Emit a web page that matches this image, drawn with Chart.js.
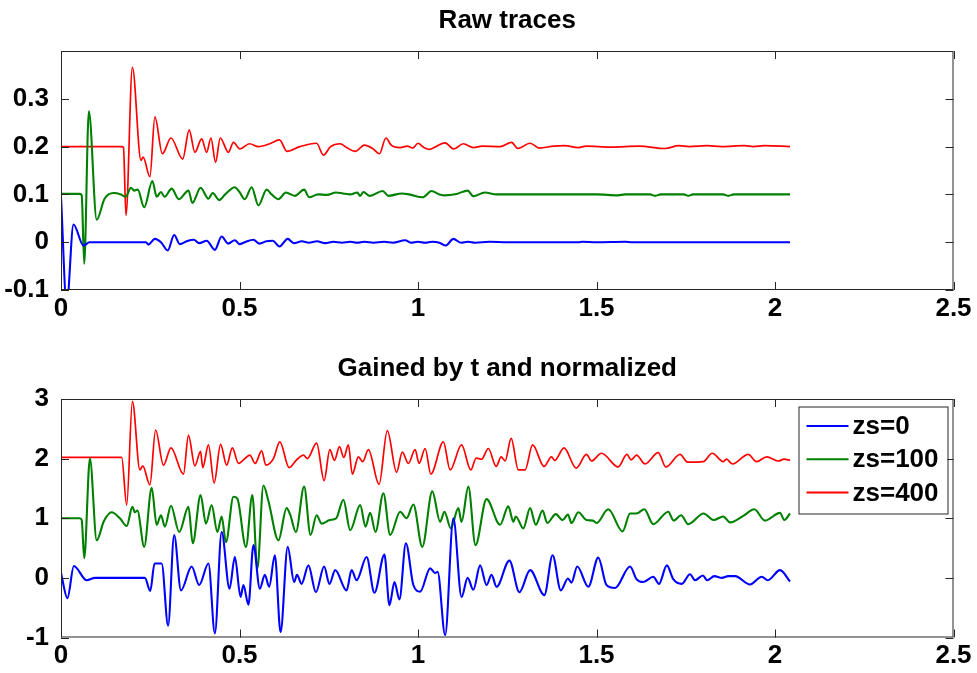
<!DOCTYPE html>
<html>
<head>
<meta charset="utf-8">
<script src="https://cdn.jsdelivr.net/npm/chart.js@4.4.1/dist/chart.umd.min.js"></script>
<style>
  body { margin: 0; background: #fff; }
  #wrap { position: relative; width: 977px; height: 673px; }
  canvas { position: absolute; left: 0; }
</style>
</head>
<body>
<div id="wrap">
  <canvas id="raw" width="977" height="336" style="top:0"></canvas>
  <canvas id="gained" width="977" height="337" style="top:336px"></canvas>
</div>
<script>
// etiquetas y marcas de los ejes
const xTicks = [0, 0.5, 1, 1.5, 2, 2.5];
const rawTicks = [-0.1, 0, 0.1, 0.2, 0.3];
const gainTicks = [-1, 0, 1, 2, 3];
const legendLabels = ['zs=0', 'zs=100', 'zs=400'];

const rawZs0 = [[0,0.094],[0.016,-0.13],[0.035,0.037],[0.063,-0.007],[0.08,0],[0.238,0],[0.245,-0.005],[0.263,0.007],[0.28,0.0],[0.299,-0.017],[0.317,0.015],[0.333,-0.004],[0.352,0.002],[0.372,0.005],[0.387,-0.002],[0.408,0.003],[0.431,-0.016],[0.45,0.012],[0.468,-0.003],[0.487,0.004],[0.5,-0.004],[0.515,0.0],[0.539,0.005],[0.556,-0.003],[0.575,0.002],[0.593,0.003],[0.612,-0.009],[0.635,0.007],[0.652,-0.002],[0.675,0.002],[0.694,-0.001],[0.717,0.002],[0.74,-0.002],[0.763,0.001],[0.787,-0.001],[0.81,0.001],[0.83,-0.001],[0.85,0.001],[0.875,-0.001],[0.905,0.001],[0.93,-0.001],[0.964,0.004],[0.98,-0.001],[1.0,0.001],[1.02,-0.001],[1.04,0.001],[1.06,-0.001],[1.078,-0.007],[1.099,0.007],[1.12,-0.001],[1.14,0.001],[1.16,-0.001],[1.2,0.001],[1.25,0],[1.45,0],[1.46,0.001],[1.5,0],[1.58,0.001],[1.6,0],[2.042,0]];
const rawZs100 = [[0,0.101],[0.053,0.101],[0.058,0.098],[0.065,-0.045],[0.078,0.274],[0.10,0.047],[0.122,0.091],[0.147,0.103],[0.168,0.1],[0.181,0.095],[0.196,0.114],[0.205,0.108],[0.215,0.11],[0.233,0.073],[0.256,0.128],[0.268,0.095],[0.28,0.105],[0.29,0.095],[0.31,0.112],[0.33,0.09],[0.357,0.108],[0.368,0.082],[0.391,0.114],[0.413,0.091],[0.425,0.103],[0.443,0.088],[0.46,0.1],[0.487,0.115],[0.5,0.105],[0.515,0.09],[0.534,0.115],[0.553,0.077],[0.576,0.11],[0.59,0.1],[0.609,0.09],[0.63,0.104],[0.655,0.097],[0.681,0.11],[0.695,0.094],[0.72,0.1],[0.745,0.099],[0.77,0.104],[0.79,0.102],[0.81,0.1],[0.83,0.104],[0.838,0.097],[0.847,0.105],[0.865,0.097],[0.901,0.107],[0.917,0.097],[0.955,0.102],[0.975,0.1],[1.013,0.094],[1.038,0.107],[1.06,0.1],[1.075,0.098],[1.108,0.101],[1.139,0.108],[1.155,0.096],[1.187,0.104],[1.22,0.1],[1.5,0.1],[1.56,0.098],[1.58,0.1],[1.65,0.1],[1.664,0.097],[1.68,0.1],[1.745,0.1],[1.757,0.097],[1.77,0.1],[1.855,0.1],[1.869,0.097],[1.885,0.1],[2.042,0.1]];
const rawZs400 = [[0,0.2],[0.17,0.2],[0.175,0.198],[0.182,0.056],[0.20,0.366],[0.224,0.171],[0.23,0.178],[0.249,0.137],[0.263,0.262],[0.284,0.185],[0.308,0.218],[0.341,0.174],[0.359,0.235],[0.375,0.188],[0.394,0.216],[0.408,0.188],[0.42,0.218],[0.433,0.167],[0.446,0.218],[0.469,0.188],[0.483,0.209],[0.501,0.195],[0.528,0.206],[0.553,0.2],[0.585,0.206],[0.612,0.214],[0.633,0.19],[0.669,0.2],[0.716,0.207],[0.735,0.182],[0.755,0.2],[0.782,0.206],[0.8,0.198],[0.824,0.19],[0.85,0.203],[0.873,0.196],[0.892,0.185],[0.91,0.218],[0.925,0.203],[0.95,0.198],[0.97,0.201],[0.985,0.197],[1.0,0.207],[1.015,0.199],[1.032,0.194],[1.05,0.2],[1.076,0.208],[1.1,0.195],[1.127,0.206],[1.155,0.198],[1.18,0.201],[1.23,0.2],[1.262,0.209],[1.28,0.196],[1.314,0.207],[1.34,0.197],[1.38,0.201],[1.41,0.202],[1.45,0.198],[1.47,0.201],[1.54,0.199],[1.62,0.201],[1.692,0.196],[1.73,0.202],[1.76,0.2],[1.81,0.202],[1.85,0.2],[1.914,0.202],[1.94,0.2],[1.97,0.202],[2.042,0.2]];

// trazas con ganancia t y normalizadas [t, amplitud] (grafico de abajo)
const gainZs0 = [[0,0.08],[0.018,-0.34],[0.036,0.20],[0.072,-0.04],[0.095,0.0],[0.235,0.0],[0.25,-0.22],[0.262,0.24],[0.282,0.24],[0.30,-0.80],[0.317,0.72],[0.336,-0.21],[0.366,0.19],[0.387,-0.12],[0.413,0.24],[0.431,-0.93],[0.450,0.77],[0.472,-0.18],[0.487,0.35],[0.503,-0.32],[0.511,-0.12],[0.525,-0.45],[0.539,0.55],[0.557,-0.18],[0.571,0.05],[0.583,-0.15],[0.599,0.38],[0.615,-0.91],[0.635,0.52],[0.653,-0.07],[0.661,0.05],[0.674,-0.10],[0.693,0.21],[0.714,-0.24],[0.737,0.19],[0.752,-0.10],[0.768,0.13],[0.800,-0.21],[0.814,0.13],[0.828,-0.04],[0.856,0.35],[0.878,-0.25],[0.906,0.39],[0.920,-0.46],[0.934,-0.07],[0.948,-0.36],[0.966,0.58],[0.987,-0.12],[1.006,-0.23],[1.034,0.16],[1.048,0.08],[1.055,0.10],[1.076,-0.96],[1.099,1.0],[1.122,-0.32],[1.139,0.0],[1.155,-0.20],[1.174,0.21],[1.192,-0.12],[1.206,0.05],[1.220,-0.15],[1.256,0.29],[1.284,-0.24],[1.314,0.13],[1.354,-0.29],[1.377,0.38],[1.400,-0.21],[1.420,-0.01],[1.430,-0.08],[1.446,0.19],[1.477,-0.15],[1.505,0.34],[1.528,-0.12],[1.552,-0.17],[1.594,0.19],[1.612,-0.02],[1.631,-0.07],[1.659,0.02],[1.675,-0.10],[1.697,0.21],[1.715,-0.02],[1.739,-0.10],[1.762,0.06],[1.776,-0.04],[1.798,0.04],[1.81,-0.04],[1.83,0.03],[1.851,0.0],[1.869,0.03],[1.888,0.03],[1.930,-0.11],[1.963,0.02],[1.98,-0.04],[2.014,0.13],[2.042,-0.06]];
const gainZs100 = [[0,1.0],[0.053,1.0],[0.058,0.97],[0.065,0.33],[0.081,2.0],[0.10,0.63],[0.12,0.95],[0.142,1.1],[0.165,1.0],[0.184,0.87],[0.20,1.19],[0.207,1.1],[0.214,1.13],[0.233,0.52],[0.254,1.51],[0.268,0.89],[0.28,1.05],[0.291,0.86],[0.308,1.21],[0.331,0.77],[0.357,1.19],[0.369,0.58],[0.391,1.39],[0.406,0.91],[0.422,1.22],[0.438,0.77],[0.45,1.03],[0.462,0.6],[0.483,1.36],[0.494,1.33],[0.518,0.52],[0.536,1.39],[0.55,0.16],[0.567,1.55],[0.581,1.29],[0.609,0.63],[0.632,1.17],[0.642,1.06],[0.658,0.77],[0.681,1.53],[0.699,0.72],[0.716,1.05],[0.730,0.91],[0.753,0.97],[0.771,1.0],[0.791,1.31],[0.81,0.80],[0.838,1.22],[0.853,0.86],[0.866,1.09],[0.881,0.77],[0.903,1.42],[0.922,0.72],[0.95,1.11],[0.968,1.0],[0.987,1.23],[1.012,0.52],[1.04,1.45],[1.062,0.94],[1.074,1.11],[1.092,0.83],[1.113,1.17],[1.122,0.94],[1.141,1.53],[1.161,0.55],[1.192,1.32],[1.23,0.89],[1.253,1.2],[1.267,0.94],[1.274,1.03],[1.295,0.83],[1.314,1.17],[1.33,0.89],[1.349,1.13],[1.362,0.92],[1.386,1.07],[1.405,0.97],[1.42,1.06],[1.43,0.92],[1.449,1.1],[1.472,0.97],[1.49,0.96],[1.5,0.92],[1.533,1.15],[1.573,0.78],[1.594,1.08],[1.612,1.08],[1.634,1.15],[1.659,0.90],[1.701,1.11],[1.716,0.96],[1.737,1.05],[1.757,0.90],[1.8,1.08],[1.828,0.97],[1.855,1.03],[1.874,0.93],[1.911,1.04],[1.942,1.15],[1.972,0.96],[2.014,1.09],[2.026,0.97],[2.042,1.08]];
const gainZs400 = [[0,2.02],[0.17,2.02],[0.184,1.22],[0.20,2.96],[0.221,1.81],[0.229,1.88],[0.249,1.56],[0.265,2.48],[0.287,1.89],[0.308,2.18],[0.343,1.74],[0.357,2.39],[0.375,1.88],[0.391,2.12],[0.397,1.85],[0.413,2.23],[0.429,1.59],[0.447,2.24],[0.464,1.89],[0.48,2.18],[0.497,1.92],[0.515,2.0],[0.529,2.06],[0.544,1.92],[0.562,2.13],[0.574,1.89],[0.595,2.0],[0.613,2.28],[0.639,1.85],[0.66,1.98],[0.679,2.06],[0.69,2.0],[0.716,2.26],[0.737,1.63],[0.753,2.15],[0.766,1.97],[0.78,2.2],[0.792,2.02],[0.805,2.23],[0.816,1.74],[0.833,2.03],[0.845,1.95],[0.861,2.15],[0.891,1.57],[0.914,2.47],[0.94,1.77],[0.956,2.11],[0.973,1.92],[0.992,2.15],[1.003,1.92],[1.02,2.17],[1.036,1.74],[1.071,2.28],[1.09,1.81],[1.122,2.23],[1.148,1.81],[1.163,2.01],[1.178,1.99],[1.197,2.17],[1.219,1.87],[1.233,2.03],[1.244,1.96],[1.261,2.34],[1.281,1.81],[1.30,1.81],[1.321,2.23],[1.353,1.87],[1.374,2.03],[1.383,1.97],[1.409,2.18],[1.443,1.84],[1.472,2.07],[1.486,1.96],[1.514,2.09],[1.561,1.86],[1.585,2.07],[1.597,1.98],[1.612,2.06],[1.636,1.91],[1.673,2.1],[1.694,1.86],[1.734,2.07],[1.755,1.94],[1.799,1.95],[1.824,2.09],[1.855,1.95],[1.864,1.99],[1.881,1.91],[1.925,2.07],[1.948,1.95],[1.977,2.03],[2.01,1.96],[2.025,1.99],[2.042,1.97]];

const colores = ['#0000ff', '#008000', '#ff0000'];
const fuente = '"Liberation Sans", Arial, Helvetica, sans-serif';
Chart.defaults.font.family = fuente;

// convierte pares [t, v] en puntos para Chart.js
function puntos(pares) {
    return pares.map(p => ({ x: p[0], y: p[1] }));
}

// caja del eje con marcas hacia adentro, titulo y leyenda (estilo MATLAB)
const marcoPlugin = {
    id: 'marco',
    afterDatasetsDraw(chart, args, opts) {
        const ctx = chart.ctx;
        const a = chart.chartArea;
        const xs = chart.scales.x, ys = chart.scales.y;
        ctx.save();
        ctx.strokeStyle = '#262626';
        ctx.lineWidth = 1;
        ctx.strokeRect(a.left + 0.5, a.top + 0.5, a.right - a.left - 1, a.bottom - a.top - 1);
        ctx.beginPath();
        xs.ticks.forEach(t => {
            const px = Math.round(xs.getPixelForValue(t.value)) + 0.5;
            ctx.moveTo(px, a.bottom); ctx.lineTo(px, a.bottom - 8);
            ctx.moveTo(px, a.top); ctx.lineTo(px, a.top + 8);
        });
        ys.ticks.forEach(t => {
            const py = Math.round(ys.getPixelForValue(t.value)) + 0.5;
            ctx.moveTo(a.left, py); ctx.lineTo(a.left + 8, py);
            ctx.moveTo(a.right, py); ctx.lineTo(a.right - 8, py);
        });
        ctx.stroke();

        // titulo centrado sobre el area de trazado
        ctx.fillStyle = '#000';
        ctx.font = 'bold 26px ' + fuente;
        ctx.textAlign = 'center';
        ctx.textBaseline = 'middle';
        ctx.fillText(opts.titulo, (a.left + a.right) / 2, a.top - 30);

        if (opts.leyenda) {
            const bx = a.right - 155, by = a.top + 7.5, bw = 149, bh = 107;
            ctx.fillStyle = '#fff';
            ctx.fillRect(bx, by, bw, bh);
            ctx.strokeStyle = '#262626';
            ctx.strokeRect(bx + 0.5, by + 0.5, bw, bh);
            chart.data.datasets.forEach((ds, i) => {
                const yy = by + 19.5 + i * 33.2;
                ctx.strokeStyle = ds.borderColor;
                ctx.lineWidth = 2;
                ctx.beginPath();
                ctx.moveTo(bx + 8, yy); ctx.lineTo(bx + 50, yy);
                ctx.stroke();
                ctx.fillStyle = '#000';
                ctx.textAlign = 'left';
                ctx.fillText(ds.label, bx + 54, yy + 1);
            });
        }
        ctx.restore();
    }
};

function crearGrafico(id, series, yMin, yMax, yMarcas, arriba, altoEjeX, titulo, leyenda) {
    const ctx = document.getElementById(id).getContext('2d');
    return new Chart(ctx, {
        type: 'line',
        data: {
            datasets: series.map((s, i) => ({
                label: legendLabels[i],
                data: puntos(s),
                borderColor: colores[i],
                backgroundColor: colores[i],
                borderWidth: i === 2 ? 1.7 : 2.1,
                pointRadius: 0,
                cubicInterpolationMode: 'monotone',
                fill: false
            }))
        },
        options: {
            responsive: false,
            animation: false,
            events: [],
            layout: { padding: { top: arriba, right: 23.5, left: 0, bottom: 0 } },
            plugins: {
                legend: { display: false },
                title: { display: false },
                tooltip: { enabled: false },
                marco: { titulo: titulo, leyenda: leyenda }
            },
            scales: {
                x: {
                    type: 'linear',
                    min: 0,
                    max: 2.5,
                    afterBuildTicks: s => { s.ticks = xTicks.map(v => ({ value: v })); },
                    afterFit: s => { s.height = altoEjeX; },
                    grid: { drawOnChartArea: false, drawTicks: false },
                    border: { display: false },
                    ticks: {
                        color: '#000',
                        font: { size: 26, weight: 'bold' },
                        padding: 3,
                        maxRotation: 0,
                        callback: v => String(v)
                    }
                },
                y: {
                    min: yMin,
                    max: yMax,
                    afterBuildTicks: s => { s.ticks = yMarcas.map(v => ({ value: v })); },
                    afterFit: s => { s.width = 61; },
                    grid: { drawOnChartArea: false, drawTicks: false },
                    border: { display: false },
                    ticks: {
                        color: '#000',
                        font: { size: 26, weight: 'bold' },
                        padding: 12,
                        callback: v => String(v)
                    }
                }
            }
        },
        plugins: [marcoPlugin]
    });
}

document.addEventListener('DOMContentLoaded', () => {
    crearGrafico('raw', [rawZs0, rawZs100, rawZs400], -0.1, 0.4, rawTicks, 51, 46, 'Raw traces', false);
    crearGrafico('gained', [gainZs0, gainZs100, gainZs400], -1, 3, gainTicks, 63, 35.5, 'Gained by t and normalized', true);
});
</script>
</body>
</html>
